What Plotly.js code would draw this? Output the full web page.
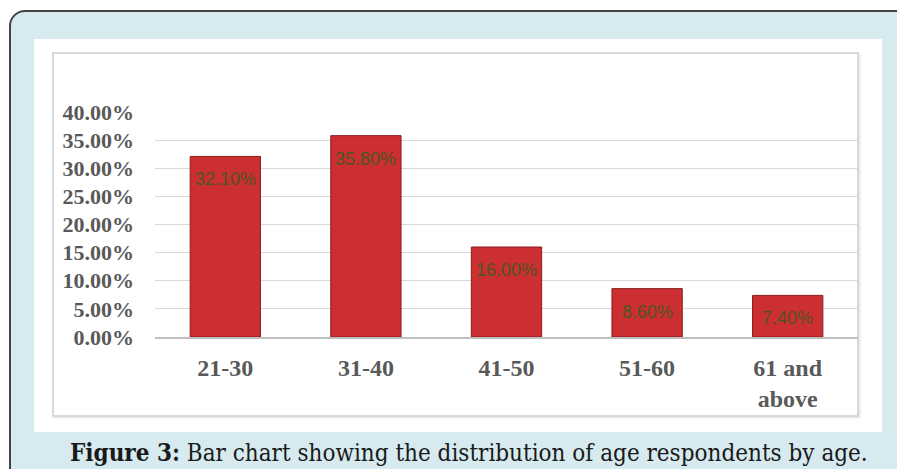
<!DOCTYPE html>
<html>
<head>
<meta charset="utf-8">
<script src="https://cdn.plot.ly/plotly-3.0.1.min.js"></script>
<style>
  html, body { margin: 0; padding: 0; background: #ffffff; }
  #wrap { position: relative; width: 897px; height: 469px; overflow: hidden; background: #ffffff; }
  #outer { position: absolute; left: 9px; top: 10px; width: 910px; height: 500px;
           background: #d6eaf0; border: 2px solid #444444; border-radius: 16px; box-sizing: border-box; }
  #panel { position: absolute; left: 34px; top: 39px; width: 848px; height: 393px; background: #ffffff; }
  #frame { position: absolute; left: 52px; top: 52px; width: 807px; height: 365px;
           border: 2px solid #d9d9d9; box-sizing: border-box; box-shadow: 1px 1px 2px rgba(0,0,0,0.12); }
  #chart { position: absolute; left: 0; top: 0; width: 897px; height: 469px; }
</style>
</head>
<body>
<div id="wrap">
  <div id="outer"></div>
  <div id="panel"></div>
  <div id="frame"></div>
  <div id="chart"></div>
</div>
<script>
const categories = ["21-30", "31-40", "41-50", "51-60", "61 and<br>above"];
const shares = [0.321, 0.358, 0.160, 0.086, 0.074];
const yTickValues = [0, 0.05, 0.10, 0.15, 0.20, 0.25, 0.30, 0.35, 0.40];
const captionBold = "Figure 3:";
const captionText = " Bar chart showing the distribution of age respondents by age.";

const trace = {
  type: "bar",
  x: categories,
  y: shares,
  marker: { color: "#cc2f31", line: { color: "#8a1c1c", width: 1 } },
  hoverinfo: "skip"
};

const labelAnnotations = categories.map((c, i) => ({
  x: c, y: shares[i], xref: "x", yref: "y",
  text: (shares[i] * 100).toFixed(2) + "%",
  showarrow: false,
  xanchor: "center", yanchor: "middle",
  yshift: -23,
  font: { family: "'Liberation Sans', Arial, sans-serif", size: 18, color: "#4e5520" }
}));

const layout = {
  width: 897, height: 469,
  margin: { l: 155, r: 39, t: 112, b: 132, pad: 0 },
  paper_bgcolor: "rgba(0,0,0,0)",
  plot_bgcolor: "rgba(0,0,0,0)",
  showlegend: false,
  bargap: 0.5,
  xaxis: {
    type: "category",
    showgrid: false,
    showline: true, linecolor: "#bfbfbf", linewidth: 2,
    ticks: "",
    ticklabelstandoff: 8,
    tickfont: { family: "'Liberation Serif', 'Times New Roman', serif", size: 24, color: "#595959", weight: "bold" }
  },
  yaxis: {
    range: [0, 0.4],
    tickvals: yTickValues,
    tickformat: ".2%",
    showgrid: true, gridcolor: "#d9d9d9", gridwidth: 1,
    zeroline: false,
    showline: false,
    ticks: "",
    ticklabelstandoff: 20,
    tickfont: { family: "'Liberation Serif', 'Times New Roman', serif", size: 22, color: "#595959", weight: "bold" }
  },
  annotations: labelAnnotations.concat([{
    xref: "paper", yref: "paper",
    x: (469 - 155) / 703, y: -(452 - 337) / 225,
    xanchor: "center", yanchor: "middle",
    showarrow: false,
    text: "<b>" + captionBold + "</b>" + captionText,
    font: { family: "'DejaVu Serif Condensed', 'Liberation Serif', serif", size: 24, color: "#1a1a1a" }
  }])
};

Plotly.newPlot("chart", [trace], layout, { displayModeBar: false, staticPlot: true });
</script>
</body>
</html>
